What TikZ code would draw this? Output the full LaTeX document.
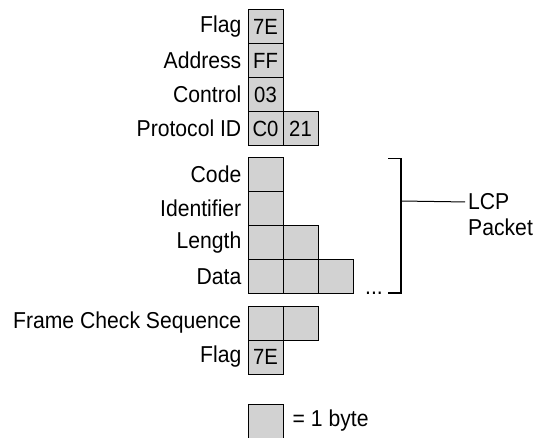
\documentclass[tikz,border=0pt]{standalone}
\usepackage{fontspec}
\setmainfont[FakeStretch=0.92]{Liberation Sans}
\usetikzlibrary{positioning}
\definecolor{bytefill}{RGB}{210,210,210}
\tikzset{
  bytebox/.style={draw, fill=bytefill, line width=1pt, minimum width=35pt, minimum height=34pt, inner sep=0pt, font=\fontsize{22}{24}\selectfont},
  lbl/.style={font=\fontsize{23}{25}\selectfont, inner sep=0pt},
  brace/.style={line width=1.8pt}
}

\begin{document}
\begin{tikzpicture}[x=1pt, y=-1pt]
  \useasboundingbox (0,0) rectangle (543,437);
  % frame header
  \node[bytebox] (flagA) at (265.5,26.5) {7E};
  \node[bytebox] (addr) at (265.5,60.5) {FF};
  \node[bytebox] (ctrl) at (265.5,94.5) {03};
  \node[bytebox] (protoA) at (265.5,128.5) {C0};
  \node[bytebox] (protoB) at (300.5,128.5) {21};
  \node[lbl, left=6pt of flagA] {Flag};
  \node[lbl, left=6pt of addr] {Address};
  \node[lbl, left=6pt of ctrl] {Control};
  \node[lbl, left=6pt of protoA] {Protocol ID};
  % LCP packet
  \node[bytebox] (code) at (265.5,174.5) {};
  \node[bytebox] (ident) at (265.5,208.5) {};
  \node[bytebox] (lenA) at (265.5,242.5) {};
  \node[bytebox] (lenB) at (300.5,242.5) {};
  \node[bytebox] (dataA) at (265.5,276.5) {};
  \node[bytebox] (dataB) at (300.5,276.5) {};
  \node[bytebox] (dataC) at (335.5,276.5) {};
  \node[lbl, left=6pt of code] {Code};
  \node[lbl, left=6pt of ident] {Identifier};
  \node[lbl, left=6pt of lenA] {Length};
  \node[lbl, left=6pt of dataA] {Data};
  \node[lbl, anchor=base] (dots) at (374,294) {...};
  % bracket
  \coordinate (brkT) at (401,158.5);
  \coordinate (brkB) at (401,293);
  \coordinate (brkM) at (401,201);
  \draw[brace] (388,158.5) -- (brkT) -- (brkB) -- (388,293);
  \node[lbl, anchor=west] (lcp) at (468,202) {LCP};
  \node[lbl, anchor=west] (packet) at (468,227) {Packet};
  \draw[line width=1pt, shorten >=3pt] (brkM) -- (lcp.west);
  % trailer
  \node[bytebox] (fcsA) at (265.5,323) {};
  \node[bytebox] (fcsB) at (300.5,323) {};
  \node[bytebox] (flagB) at (265.5,357) {7E};
  \node[lbl, left=6pt of fcsA] {Frame Check Sequence};
  \node[lbl, left=6pt of flagB] {Flag};
  % legend
  \node[bytebox] (legend) at (265.5,421) {};
  \node[lbl, right=9pt of legend] {= 1 byte};
\end{tikzpicture}
\end{document}
